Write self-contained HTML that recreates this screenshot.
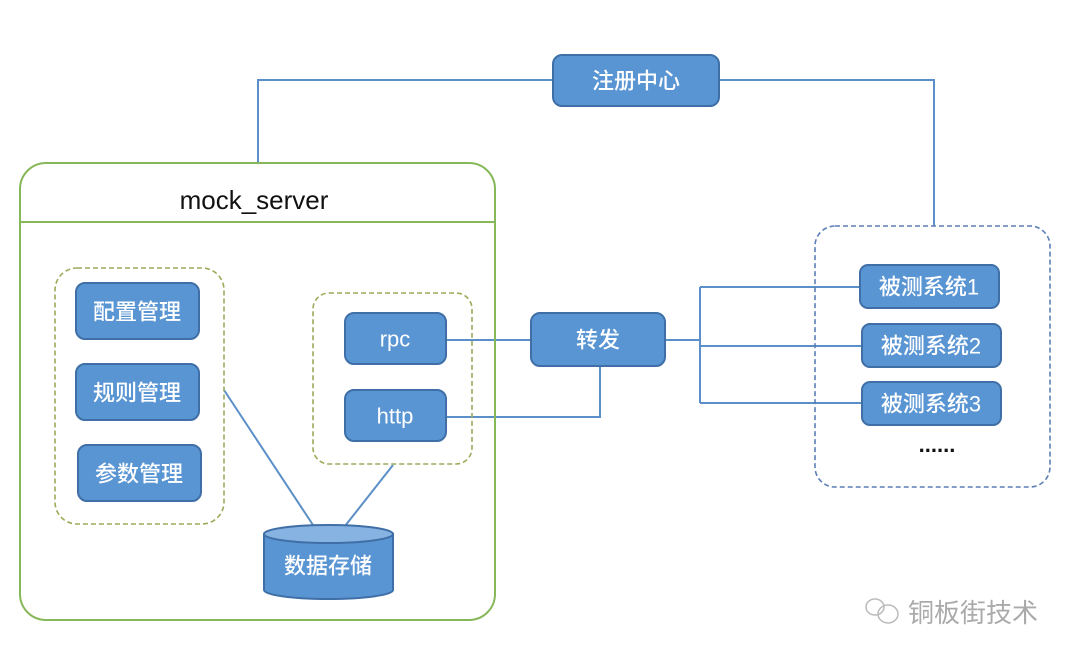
<!DOCTYPE html>
<html><head><meta charset="utf-8"><style>
html,body{margin:0;padding:0;background:#fff;}
svg{display:block;}
text{font-family:"Liberation Sans","Noto Sans CJK SC",sans-serif;}
.b{fill:#5a95d3;stroke:#3f6fa6;stroke-width:2;}
.t{fill:#fff;font-size:22px;font-weight:500;text-anchor:middle;dominant-baseline:central;}
.l{stroke:#5b8fc7;stroke-width:2;fill:none;}
</style></head><body>
<svg width="1080" height="660" viewBox="0 0 1080 660">
<polyline class="l" points="258,162 258,80 553,80"/>
<polyline class="l" points="719,80 934,80 934,226"/>
<line class="l" x1="446" y1="340" x2="531" y2="340"/>
<polyline class="l" points="446,417 600,417 600,366"/>
<line class="l" x1="665" y1="340" x2="700" y2="340"/>
<line class="l" x1="700" y1="287" x2="700" y2="403"/>
<line class="l" x1="700" y1="287" x2="860" y2="287"/>
<line class="l" x1="700" y1="346" x2="862" y2="346"/>
<line class="l" x1="700" y1="403" x2="862" y2="403"/>
<line class="l" x1="224" y1="390" x2="313" y2="525"/>
<line class="l" x1="393" y1="465" x2="345" y2="526"/>

<rect x="20" y="163" width="475" height="457" rx="26" fill="none" stroke="#86b85a" stroke-width="2"/>
<line x1="20" y1="222" x2="495" y2="222" stroke="#86b85a" stroke-width="2"/>
<text x="254" y="209" font-size="26" text-anchor="middle" fill="#111">mock_server</text>

<rect x="55" y="268" width="169" height="256" rx="22" fill="none" stroke="#9aab5a" stroke-width="1.6" stroke-dasharray="5,3"/>
<rect x="313" y="293" width="159" height="171" rx="16" fill="none" stroke="#9aab5a" stroke-width="1.6" stroke-dasharray="5,3"/>

<rect class="b" x="76" y="283" width="123" height="56" rx="9"/><text class="t" x="137" y="312">配置管理</text>
<rect class="b" x="76" y="364" width="123" height="56" rx="9"/><text class="t" x="137" y="393">规则管理</text>
<rect class="b" x="78" y="445" width="123" height="56" rx="9"/><text class="t" x="139" y="474">参数管理</text>
<rect class="b" x="345" y="313" width="101" height="51" rx="9"/><text class="t" x="395" y="339">rpc</text>
<rect class="b" x="345" y="390" width="101" height="51" rx="9"/><text class="t" x="395" y="416">http</text>

<path class="b" d="M264,534 L264,590 A64.5,9 0 0 0 393,590 L393,534 Z"/>
<ellipse cx="328.5" cy="534" rx="64.5" ry="9" fill="#86b3e2" stroke="#3f6fa6" stroke-width="2"/>
<text class="t" x="328" y="566">数据存储</text>

<rect class="b" x="553" y="55" width="166" height="51" rx="9"/><text class="t" x="636" y="81">注册中心</text>
<rect class="b" x="531" y="313" width="134" height="53" rx="9"/><text class="t" x="598" y="340">转发</text>

<rect x="815" y="226" width="235" height="261" rx="20" fill="none" stroke="#5b7fb5" stroke-width="1.6" stroke-dasharray="5,3"/>
<rect class="b" x="860" y="265" width="139" height="43" rx="8"/><text class="t" x="929" y="287">被测系统1</text>
<rect class="b" x="862" y="324" width="139" height="43" rx="8"/><text class="t" x="931" y="346">被测系统2</text>
<rect class="b" x="862" y="382" width="139" height="43" rx="8"/><text class="t" x="931" y="404">被测系统3</text>
<text x="937" y="452" font-size="22" font-weight="bold" text-anchor="middle" fill="#111">......</text>

<g stroke="#bbb" stroke-width="1.5" fill="none">
<ellipse cx="875" cy="607" rx="9" ry="8"/>
<ellipse cx="888" cy="614" rx="10" ry="9"/>
</g>
<text x="908" y="622" font-size="26" fill="#aaa">铜板街技术</text>
</svg>
</body></html>
